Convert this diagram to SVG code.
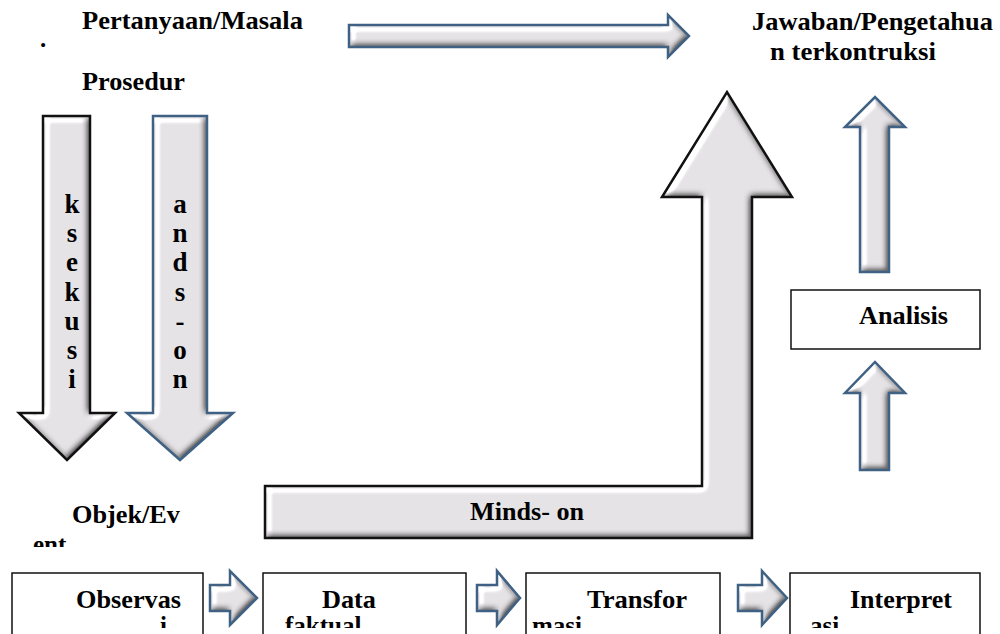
<svg xmlns="http://www.w3.org/2000/svg" width="1000" height="634" viewBox="0 0 1000 634">
<style>
  .t { font-family: "Liberation Serif", "DejaVu Serif", serif; font-weight: bold; font-size: 25px; fill: #000; }
  .v { font-size: 27px; }
  .body { fill: #000; filter: url(#bevel); }
  .olk { fill: none; stroke: #111; stroke-width: 2.5; stroke-linejoin: miter; }
  .olb { fill: none; stroke: #3f6184; stroke-width: 2.5; stroke-linejoin: miter; }
  .box { fill: #fff; stroke: #111; stroke-width: 1.5; }
  .mid { text-anchor: middle; }
</style>
<defs>
  <filter id="bevel" x="-10%" y="-10%" width="120%" height="120%" color-interpolation-filters="sRGB">
    <feGaussianBlur in="SourceAlpha" stdDeviation="3" result="blur"/>
    <feDiffuseLighting in="blur" surfaceScale="3.5" diffuseConstant="1" lighting-color="#fffcff" result="lit">
      <feDistantLight azimuth="225" elevation="62"/>
    </feDiffuseLighting>
    <feSpecularLighting in="blur" surfaceScale="3.5" specularConstant="0.8" specularExponent="40" lighting-color="#ffffff" result="spec">
      <feDistantLight azimuth="225" elevation="40"/>
    </feSpecularLighting>
    <feComposite in="spec" in2="lit" operator="arithmetic" k1="0" k2="1" k3="1" k4="0" result="sum"/>
    <feComposite in="sum" in2="SourceAlpha" operator="in"/>
  </filter>
  <polygon id="pTop" points="349,25 668,25 668,15 689,36 668,57 668,47 349,47"/>
  <polygon id="pL1" points="43,116 90,116 90,413 115,413 67,460 19,413 43,413"/>
  <polygon id="pL2" points="153,116 207,116 207,413 233,413 180,460 127,413 153,413"/>
  <polygon id="pBig" points="265,486 702,486 702,197 662,197 727,92 792,197 752,197 752,538 265,538"/>
  <polygon id="pR1" points="860,272 860,127 845,127 875,97 905,127 889,127 889,272"/>
  <polygon id="pR2" points="860,470 860,393 845,393 875,362 905,393 889,393 889,470"/>
  <polygon id="pA" points="210,585 230,585 230,571 257,598 230,625 230,611 210,611"/>
  <polygon id="pB" points="477,585 497,585 497,571 520,598 497,625 497,611 477,611"/>
  <polygon id="pC" points="738,585 762,585 762,571 787,598 762,625 762,611 738,611"/>
  <clipPath id="cEnt"><rect x="0" y="530" width="260" height="17"/></clipPath>
  <clipPath id="cRow"><rect x="0" y="612" width="1000" height="16"/></clipPath>
</defs>

<g id="connectors">
  <g id="arrow-top"><use href="#pTop" class="body"/><use href="#pTop" class="olb"/></g>
  <g id="arrow-eksekusi">
    <use href="#pL1" class="body"/><use href="#pL1" class="olk"/>
    <text x="72" y="213" class="t v mid">k<tspan x="72" dy="29.2">s</tspan><tspan x="72" dy="29.2">e</tspan><tspan x="72" dy="29.2">k</tspan><tspan x="72" dy="29.2">u</tspan><tspan x="72" dy="29.2">s</tspan><tspan x="72" dy="29.2">i</tspan></text>
  </g>
  <g id="arrow-handson">
    <use href="#pL2" class="body"/><use href="#pL2" class="olb"/>
    <text x="180" y="213" class="t v mid">a<tspan x="180" dy="29.2">n</tspan><tspan x="180" dy="29.2">d</tspan><tspan x="180" dy="29.2">s</tspan><tspan x="180" dy="29.2">-</tspan><tspan x="180" dy="29.2">o</tspan><tspan x="180" dy="29.2">n</tspan></text>
  </g>
  <g id="arrow-mindson">
    <use href="#pBig" class="body"/><use href="#pBig" class="olk"/>
    <text x="527" y="520" class="t mid" textLength="114" lengthAdjust="spacingAndGlyphs">Minds- on</text>
  </g>
  <g id="arrow-right-upper"><use href="#pR1" class="body"/><use href="#pR1" class="olb"/></g>
  <g id="arrow-right-lower"><use href="#pR2" class="body"/><use href="#pR2" class="olb"/></g>
  <g id="arrow-row-1"><use href="#pA" class="body"/><use href="#pA" class="olb"/></g>
  <g id="arrow-row-2"><use href="#pB" class="body"/><use href="#pB" class="olb"/></g>
  <g id="arrow-row-3"><use href="#pC" class="body"/><use href="#pC" class="olb"/></g>
</g>

<g id="node-pertanyaan">
  <text class="t" x="82" y="29" textLength="221" lengthAdjust="spacingAndGlyphs">Pertanyaan/Masala</text>
  <text class="t" x="40" y="47">.</text>
</g>
<g id="node-prosedur">
  <text class="t" x="82" y="90" textLength="103" lengthAdjust="spacingAndGlyphs">Prosedur</text>
</g>
<g id="node-jawaban">
  <text class="t" x="752" y="30" textLength="241" lengthAdjust="spacingAndGlyphs">Jawaban/Pengetahua</text>
  <text class="t" x="770" y="60" textLength="166" lengthAdjust="spacingAndGlyphs">n terkontruksi</text>
</g>
<g id="node-objek">
  <text class="t" x="72" y="523" textLength="108" lengthAdjust="spacingAndGlyphs">Objek/Ev</text>
  <text class="t" x="33" y="553" clip-path="url(#cEnt)">ent</text>
</g>
<g id="node-analisis">
  <rect x="791" y="290" width="189" height="59" class="box"/>
  <text class="t" x="859" y="324" textLength="89" lengthAdjust="spacingAndGlyphs">Analisis</text>
</g>
<g id="node-observasi">
  <rect x="12" y="573" width="191" height="70" class="box"/>
  <text class="t" x="76" y="608" textLength="105" lengthAdjust="spacingAndGlyphs">Observas</text>
  <text class="t" x="160" y="634" clip-path="url(#cRow)">i</text>
</g>
<g id="node-data">
  <rect x="263" y="573" width="203" height="70" class="box"/>
  <text class="t" x="322" y="608" textLength="54" lengthAdjust="spacingAndGlyphs">Data</text>
  <text class="t" x="285" y="634" clip-path="url(#cRow)">faktual</text>
</g>
<g id="node-transformasi">
  <rect x="526" y="573" width="194" height="70" class="box"/>
  <text class="t" x="587" y="608" textLength="100" lengthAdjust="spacingAndGlyphs">Transfor</text>
  <text class="t" x="532" y="634" clip-path="url(#cRow)">masi</text>
</g>
<g id="node-interpretasi">
  <rect x="790" y="573" width="190" height="70" class="box"/>
  <text class="t" x="850" y="608" textLength="102" lengthAdjust="spacingAndGlyphs">Interpret</text>
  <text class="t" x="810" y="634" clip-path="url(#cRow)">asi</text>
</g>
</svg>
